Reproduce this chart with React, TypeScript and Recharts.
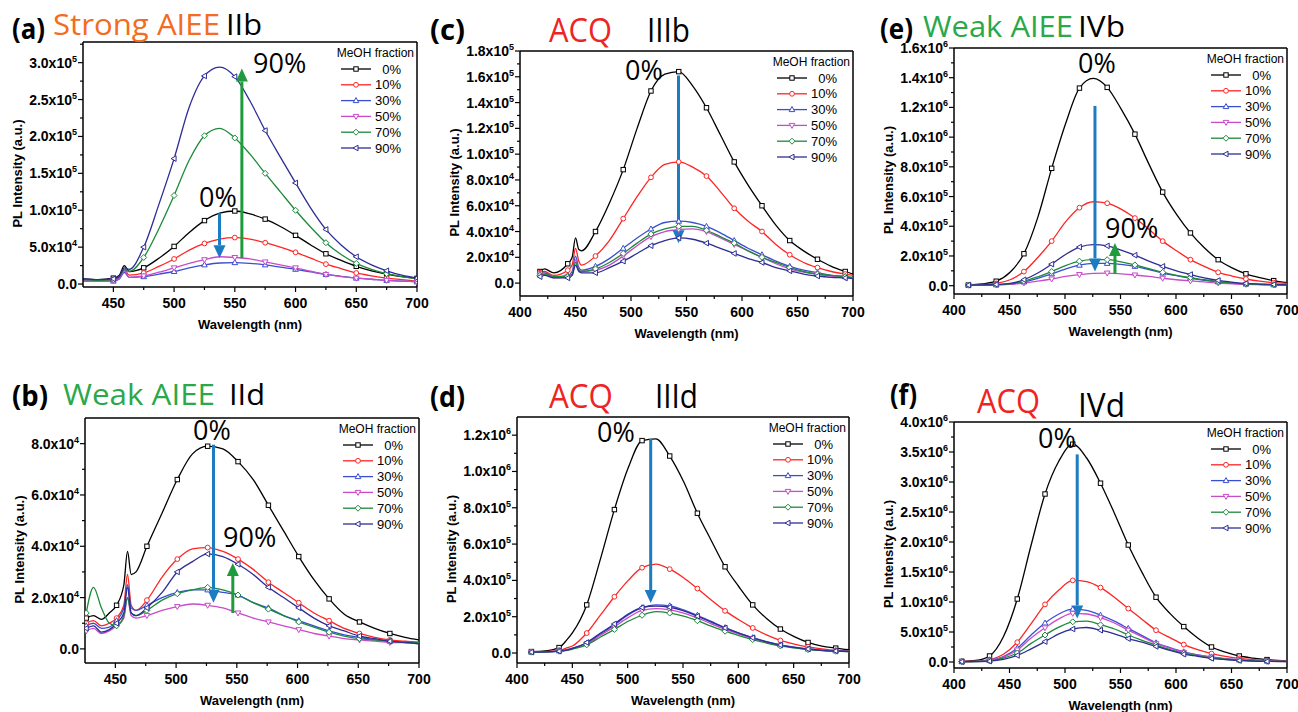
import React from "react";
import { LineChart, Line, XAxis, YAxis, ReferenceLine } from "recharts";

const FRACTIONS = ["0%", "10%", "30%", "50%", "70%", "90%"];
const LINE_COLORS = ["#000000", "#ff2424", "#3a4fd0", "#c94bc9", "#1c8a3a", "#2d2d95"];
const MARKERS = ["square", "circle", "up", "down", "diamond", "left"];
const BLUE = "#1b7cc2";
const GREEN = "#1f9a3c";
const AX_FONT = "Arial, 'Liberation Sans', sans-serif";
const TITLE_FONT = "'Open Sans', 'Noto Sans', sans-serif";

// intensities below are in 10^3 counts

// (a) Strong AIEE IIb
const wlA = [425, 437.5, 450, 455, 459, 463, 475, 487.5, 500, 512.5, 525, 537.5, 550, 562.5, 575, 587.5, 600, 612.5, 625, 637.5, 650, 662.5, 675, 687.5, 700];
const a00 = [7, 6, 8, 12, 25, 17, 22, 35, 51, 70, 86, 96, 99, 95, 88, 78, 66, 53, 41, 32, 24, 18, 13.5, 10, 7.7];
const a10 = [6, 5, 6, 9, 20, 12, 15, 24, 34, 46, 55, 61, 63, 61, 56, 50, 43, 35, 27, 21, 15, 11, 8, 6, 4];
const a30 = [4, 4, 4, 7, 16, 9, 10, 13.5, 17, 22, 26, 28.5, 29, 28, 26, 23, 20, 16.5, 13, 10.5, 8, 6.5, 5, 4, 3];
const a50 = [5, 4.5, 5, 8, 18, 9, 11, 16, 22, 28, 33, 37, 36, 34, 30, 26, 22, 17.5, 13, 10, 8, 6.5, 5, 4, 3];
const a70 = [6, 5, 6, 10, 20, 17, 36, 75, 120, 168, 201, 211, 198, 176, 150, 125, 100, 77, 56, 40, 28, 20, 14, 10, 7];
const a90 = [7, 6, 7, 11, 22, 20, 50, 108, 170, 240, 282, 294, 281, 248, 208, 172, 137, 103, 74, 53, 37, 26, 18, 12, 8];

// (b) Weak AIEE IId
const wlB = [426, 432, 438.5, 445, 451, 457, 460, 463, 467, 476, 488.5, 501, 513.5, 526, 538.5, 551, 563.5, 576, 588.5, 601, 613.5, 626, 638.5, 651, 663.5, 676, 688.5, 700];
const b00 = [12, 13, 11.5, 14, 17, 25, 38, 29, 30, 40, 53, 66, 76, 79, 78, 73, 66, 56, 46, 36, 27, 19.5, 13.5, 10.5, 8, 6, 4.5, 3.5];
const b10 = [10, 11, 9, 10, 12, 17, 29, 17, 15, 19, 28, 35, 39, 39.5, 38, 35, 31, 26, 22, 18, 14, 11, 8, 6, 4.5, 3.5, 3, 2.5];
const b30 = [9, 10, 8, 8.5, 11, 16, 25, 16, 15, 17, 20, 22, 23, 23, 22, 21, 18, 16, 13, 11, 9, 7, 5.5, 4.5, 3.5, 3, 2.5, 2.5];
const b50 = [7, 8, 6, 7, 9, 12, 20, 13, 12, 13, 15, 16.5, 17.5, 17, 16, 14, 12, 10.5, 9, 7.5, 6, 5, 4, 3.5, 3, 2.5, 2.5, 2];
const b70 = [14, 24, 16, 10, 9, 13, 20, 14, 13, 15, 19, 21.5, 23, 24, 23, 21, 18, 15.5, 13, 10.5, 8.5, 6.5, 5, 4, 3.5, 3, 2.5, 2.5];
const b90 = [8, 9, 6.5, 7.5, 10, 14, 24, 14, 13, 16, 22, 30, 34, 37, 36, 33, 29, 24, 20, 16, 12, 9, 7, 5, 4, 3, 2.5, 2];

// (c) ACQ IIIb
const wlC = [418, 422, 430.5, 443, 447, 450, 453, 455.5, 468, 480.5, 493, 505.5, 518, 530.5, 543, 555.5, 568, 580.5, 593, 605.5, 618, 630.5, 643, 655.5, 668, 680.5, 693, 700];
const c00 = [9, 11, 8, 15, 20, 35, 26, 25, 40, 62, 88, 120, 149, 162, 164, 153, 136, 115, 94, 76, 60, 45, 33, 25, 18.5, 13, 9, 7];
const c10 = [8, 9, 6, 10, 14, 27, 17, 14, 21, 33, 50, 67, 82, 92, 94, 90, 83, 71, 58, 48, 40, 30, 22, 16, 12, 9, 7, 6];
const c30 = [7, 8, 5, 6, 9, 21, 12, 10, 13, 19, 27, 35, 42, 47, 48, 47, 44, 39, 33, 27, 22, 17, 13, 10, 8, 6, 5, 4];
const c50 = [6, 7, 4, 5, 7, 18, 10, 9, 10, 14, 21, 29, 36, 40, 41.5, 42, 40, 35, 30, 25, 20, 15, 11, 8.5, 7, 5.5, 4.5, 4];
const c70 = [6, 7, 5, 5, 7, 16, 10, 9, 11, 16, 23, 31, 38, 42, 44, 44, 41, 36, 31, 25, 20, 16, 12, 9, 7, 6, 5, 4.5];
const c90 = [5, 6, 4, 4, 6, 14, 9, 8, 8, 12, 17, 23, 29, 33, 35, 34, 31, 27, 23, 19, 16, 12, 9.5, 7, 5.5, 4.5, 4, 3.5];

// (d) ACQ IIId
const wlD = [413, 425.5, 438, 445, 450.5, 463, 475.5, 488, 500.5, 513, 525.5, 538, 550.5, 563, 575.5, 588, 600.5, 613, 625.5, 638, 650.5, 663, 675.5, 688, 700];
const d00 = [8, 12, 30, 72, 115, 265, 520, 790, 1020, 1170, 1180, 1085, 945, 770, 620, 475, 365, 265, 190, 132, 90, 58, 38, 27, 18];
const d10 = [6, 8, 15, 28, 40, 110, 210, 310, 400, 470, 490, 462, 415, 355, 292, 232, 183, 138, 100, 69, 49, 34, 23, 15, 12];
const d30 = [5, 6, 12, 18, 28, 55, 105, 155, 210, 250, 265, 260, 238, 208, 174, 140, 110, 85, 63, 45, 32, 22, 16, 12, 9];
const d50 = [5, 6, 11, 16, 25, 50, 98, 145, 195, 235, 245, 238, 220, 193, 161, 131, 104, 80, 59, 42, 30, 21, 15, 11, 8];
const d70 = [5, 6, 10, 15, 22, 45, 88, 130, 175, 208, 228, 220, 203, 178, 148, 120, 96, 74, 55, 39, 28, 19, 13, 10, 7];
const d90 = [5, 6, 10, 16, 25, 58, 110, 160, 215, 250, 258, 252, 232, 203, 170, 138, 109, 84, 62, 44, 31, 22, 15, 11, 9];

// (e) Weak AIEE IVb
const wlE = [413, 425.5, 438, 450.5, 463, 475.5, 488, 500.5, 513, 525.5, 538, 550.5, 563, 575.5, 588, 600.5, 613, 625.5, 638, 650.5, 663, 675.5, 688, 700];
const e00 = [5, 12, 30, 90, 215, 460, 790, 1090, 1330, 1395, 1335, 1190, 1020, 820, 630, 480, 355, 255, 175, 120, 80, 55, 34, 20];
const e10 = [5, 8, 15, 40, 95, 190, 300, 430, 525, 565, 555, 515, 455, 380, 300, 235, 175, 130, 90, 65, 45, 30, 20, 15];
const e30 = [4, 5, 6, 10, 25, 50, 80, 112, 138, 150, 150, 143, 130, 108, 85, 67, 50, 36, 25, 17, 11, 8, 6, 4];
const e50 = [3, 4, 5, 9, 18, 30, 45, 62, 75, 83, 85, 80, 72, 62, 50, 40, 32, 25, 18, 13, 9, 7, 5, 4];
const e70 = [4, 5, 7, 12, 30, 60, 95, 135, 165, 175, 175, 160, 140, 115, 90, 70, 55, 40, 28, 19, 12, 9, 6, 5];
const e90 = [4, 5, 8, 15, 40, 85, 145, 210, 260, 277, 268, 240, 205, 165, 130, 100, 75, 52, 35, 24, 15, 11, 8, 6];

// (f) ACQ IVd
const wlF = [407, 419.5, 432, 444.5, 457, 469.5, 482, 494.5, 507, 519.5, 532, 544.5, 557, 569.5, 582, 594.5, 607, 619.5, 632, 644.5, 657, 669.5, 682, 700];
const f00 = [10, 25, 100, 420, 1050, 1950, 2800, 3350, 3630, 3400, 2980, 2480, 1950, 1490, 1080, 810, 590, 400, 250, 165, 100, 65, 40, 20];
const f10 = [8, 12, 40, 130, 330, 640, 960, 1200, 1360, 1340, 1240, 1080, 890, 710, 530, 405, 290, 205, 140, 95, 60, 40, 25, 15];
const f30 = [6, 10, 25, 90, 230, 450, 650, 800, 880, 860, 780, 680, 560, 440, 320, 240, 170, 120, 85, 55, 35, 22, 15, 10];
const f50 = [6, 9, 22, 80, 200, 400, 570, 720, 810, 800, 740, 650, 530, 420, 310, 230, 160, 115, 80, 52, 33, 21, 14, 9];
const f70 = [5, 8, 18, 65, 150, 310, 450, 580, 670, 680, 620, 550, 450, 360, 280, 205, 145, 105, 70, 46, 30, 18, 12, 8];
const f90 = [5, 7, 15, 45, 110, 220, 340, 470, 550, 575, 530, 470, 390, 330, 260, 195, 130, 95, 60, 40, 25, 15, 10, 7];

// axis ticks
const xMajorShort = [450, 500, 550, 600, 650, 700];
const xMinorShort = [475, 525, 575, 625, 675];
const xMajorLong = [400, 450, 500, 550, 600, 650, 700];
const xMinorLong = [425, 475, 525, 575, 625, 675];
const yMajorA = [0, 5e4, 1e5, 1.5e5, 2e5, 2.5e5, 3e5];
const yMinorA = [2.5e4, 7.5e4, 1.25e5, 1.75e5, 2.25e5, 2.75e5, 3.25e5];
const yMajorB = [0, 2e4, 4e4, 6e4, 8e4];
const yMinorB = [1e4, 3e4, 5e4, 7e4];
const yMajorC = [0, 2e4, 4e4, 6e4, 8e4, 1e5, 1.2e5, 1.4e5, 1.6e5, 1.8e5];
const yMinorC = [1e4, 3e4, 5e4, 7e4, 9e4, 1.1e5, 1.3e5, 1.5e5, 1.7e5];
const yMajorD = [0, 2e5, 4e5, 6e5, 8e5, 1e6, 1.2e6];
const yMinorD = [1e5, 3e5, 5e5, 7e5, 9e5, 1.1e6];
const yMajorE = [0, 2e5, 4e5, 6e5, 8e5, 1e6, 1.2e6, 1.4e6, 1.6e6];
const yMinorE = [1e5, 3e5, 5e5, 7e5, 9e5, 1.1e6, 1.3e6, 1.5e6];
const yMajorF = [0, 5e5, 1e6, 1.5e6, 2e6, 2.5e6, 3e6, 3.5e6, 4e6];
const yMinorF = [2.5e5, 7.5e5, 1.25e6, 1.75e6, 2.25e6, 2.75e6, 3.25e6, 3.75e6];

type Txt = { text: string; x: number; y: number; color?: string; size?: number; bold?: boolean; w?: number };
type Arrow = { x: number; from: number; to: number; color: string };
type PanelCfg = {
  id: string;
  frame: [number, number, number, number];
  wl: number[];
  series: number[][];
  markStart: number;
  xDomain: [number, number];
  xMajor: number[];
  xMinor: number[];
  yDomain: [number, number];
  yMajor: number[];
  yMinor: number[];
  arrows: Arrow[];
  heading: Txt[];
  notes: Txt[];
};

const ORANGE = "#f36c21";
const TGREEN = "#2aa84a";
const TRED = "#ee2424";

const PANELS: PanelCfg[] = [
  {
    id: "a", frame: [83, 42, 417, 287], wl: wlA, series: [a00, a10, a30, a50, a70, a90], markStart: 450,
    xDomain: [425, 700], xMajor: xMajorShort, xMinor: xMinorShort,
    yDomain: [-4000, 3.28e5], yMajor: yMajorA, yMinor: yMinorA,
    arrows: [{ x: 537.4, from: 96e3, to: 35e3, color: BLUE }, { x: 555.8, from: 35e3, to: 292e3, color: GREEN }],
    heading: [
      { text: "(a)", x: 12, y: 39, bold: true, size: 28, w: 33 },
      { text: "Strong AIEE", x: 53, y: 35, color: ORANGE, size: 29, w: 167 },
      { text: "IIb", x: 226, y: 35, size: 29, w: 36 },
    ],
    notes: [{ text: "0%", x: 199, y: 207 }, { text: "90%", x: 253, y: 73 }],
  },
  {
    id: "c", frame: [520, 51, 853, 296], wl: wlC, series: [c00, c10, c30, c50, c70, c90], markStart: 418,
    xDomain: [400, 700], xMajor: xMajorLong, xMinor: xMinorLong,
    yDomain: [-1e4, 1.8e5], yMajor: yMajorC, yMinor: yMinorC,
    arrows: [{ x: 542.8, from: 161e3, to: 31e3, color: BLUE }],
    heading: [
      { text: "(c)", x: 430, y: 40, bold: true, size: 28, w: 35 },
      { text: "ACQ", x: 549, y: 42, color: TRED, size: 32, w: 63 },
      { text: "IIIb", x: 647, y: 42, size: 32, w: 43 },
    ],
    notes: [{ text: "0%", x: 625, y: 80 }],
  },
  {
    id: "e", frame: [954, 48, 1287, 294], wl: wlE, series: [e00, e10, e30, e50, e70, e90], markStart: 413,
    xDomain: [400, 700], xMajor: xMajorLong, xMinor: xMinorLong,
    yDomain: [-5.6e4, 1.6e6], yMajor: yMajorE, yMinor: yMinorE,
    arrows: [{ x: 527, from: 1.21e6, to: 96e3, color: BLUE }, { x: 545, from: 81e3, to: 288e3, color: GREEN }],
    heading: [
      { text: "(e)", x: 880, y: 39, bold: true, size: 28, w: 33 },
      { text: "Weak AIEE", x: 923, y: 37, color: TGREEN, size: 30, w: 150 },
      { text: "IVb", x: 1078, y: 37, size: 30, w: 47 },
    ],
    notes: [{ text: "0%", x: 1078, y: 73 }, { text: "90%", x: 1105, y: 238 }],
  },
  {
    id: "b", frame: [85, 418, 419, 663], wl: wlB, series: [b00, b10, b30, b50, b70, b90], markStart: 426,
    xDomain: [425, 700], xMajor: xMajorShort, xMinor: xMinorShort,
    yDomain: [-5500, 9e4], yMajor: yMajorB, yMinor: yMinorB,
    arrows: [{ x: 530.8, from: 79.6e3, to: 18e3, color: BLUE }, { x: 546.7, from: 14e3, to: 33.5e3, color: GREEN }],
    heading: [
      { text: "(b)", x: 12, y: 406, bold: true, size: 28, w: 36 },
      { text: "Weak AIEE", x: 63, y: 405, color: TGREEN, size: 30, w: 152 },
      { text: "IId", x: 229, y: 405, size: 30, w: 36 },
    ],
    notes: [{ text: "0%", x: 193, y: 440 }, { text: "90%", x: 223, y: 547 }],
  },
  {
    id: "d", frame: [517, 417, 849, 663], wl: wlD, series: [d00, d10, d30, d50, d70, d90], markStart: 413,
    xDomain: [400, 700], xMajor: xMajorLong, xMinor: xMinorLong,
    yDomain: [-5.5e4, 1.3e6], yMajor: yMajorD, yMinor: yMinorD,
    arrows: [{ x: 520.8, from: 1.18e6, to: 275e3, color: BLUE }],
    heading: [
      { text: "(d)", x: 430, y: 407, bold: true, size: 28, w: 35 },
      { text: "ACQ", x: 549, y: 408, color: TRED, size: 32, w: 64 },
      { text: "IIId", x: 655, y: 408, size: 32, w: 43 },
    ],
    notes: [{ text: "0%", x: 597, y: 442 }],
  },
  {
    id: "f", frame: [954, 422, 1287, 668], wl: wlF, series: [f00, f10, f30, f50, f70, f90], markStart: 407,
    xDomain: [400, 700], xMajor: xMajorLong, xMinor: xMinorLong,
    yDomain: [-1e5, 4e6], yMajor: yMajorF, yMinor: yMinorF,
    arrows: [{ x: 511, from: 3.46e6, to: 725e3, color: BLUE }],
    heading: [
      { text: "(f)", x: 890, y: 405, bold: true, size: 28, w: 27 },
      { text: "ACQ", x: 977, y: 413, color: TRED, size: 32, w: 63 },
      { text: "IVd", x: 1078, y: 417, size: 32, w: 47 },
    ],
    notes: [{ text: "0%", x: 1038, y: 448 }],
  },
];

function sciLabel(v: number) {
  if (v === 0) return { m: "0.0", e: "" };
  const e = Math.floor(Math.log10(v) + 1e-9);
  return { m: (v / Math.pow(10, e)).toFixed(1) + "x10", e: String(e) };
}

function Marker({ cx, cy, kind, color }: { cx: number; cy: number; kind: string; color: string }) {
  const common = { fill: "#fff", stroke: color, strokeWidth: 1 };
  switch (kind) {
    case "square":
      return <rect x={cx - 2.2} y={cy - 2.2} width={4.4} height={4.4} {...common} />;
    case "circle":
      return <circle cx={cx} cy={cy} r={2.4} {...common} />;
    case "up":
      return <polygon points={`${cx},${cy - 3} ${cx + 2.8},${cy + 2} ${cx - 2.8},${cy + 2}`} {...common} />;
    case "down":
      return <polygon points={`${cx},${cy + 3} ${cx + 2.8},${cy - 2} ${cx - 2.8},${cy - 2}`} {...common} />;
    case "diamond":
      return <polygon points={`${cx},${cy - 3} ${cx + 3},${cy} ${cx},${cy + 3} ${cx - 3},${cy}`} {...common} />;
    default:
      return <polygon points={`${cx - 3},${cy} ${cx + 2},${cy - 2.8} ${cx + 2},${cy + 2.8}`} {...common} />;
  }
}

const makeDot = (start: number, kind: string, color: string) => (p: any) => {
  const wl = p.payload?.wl;
  const on = typeof wl === "number" && wl >= start && Math.abs((wl - start) % 25) < 1e-6;
  if (!on || p.cx == null || p.cy == null) return <g key={`d${p.index}`} />;
  return (
    <g key={`d${p.index}`}>
      <Marker cx={p.cx} cy={p.cy} kind={kind} color={color} />
    </g>
  );
};

const arrowShape = (color: string) => (p: any) => {
  const { x1, y1, x2, y2 } = p;
  const dir = y2 > y1 ? 1 : -1;
  const head = 13;
  const half = 6;
  return (
    <g>
      <line x1={x1} y1={y1} x2={x2} y2={y2 - dir * head} stroke={color} strokeWidth={3} />
      <polygon points={`${x2},${y2} ${x2 - half},${y2 - dir * head} ${x2 + half},${y2 - dir * head}`} fill={color} />
    </g>
  );
};

function XTick({ x, y, payload, majors }: any) {
  const major = majors.includes(payload.value);
  const top = y - 8;
  return (
    <g>
      <line x1={x} x2={x} y1={top} y2={top + (major ? 5 : 3)} stroke="#000" strokeWidth={1.2} />
      {major && (
        <text x={x} y={top + 21} textAnchor="middle" fontSize={14} fontWeight="bold" fontFamily={AX_FONT} fill="#000">
          {payload.value}
        </text>
      )}
    </g>
  );
}

function YTick({ x, y, payload, majors }: any) {
  const major = majors.includes(payload.value);
  const right = x + 8;
  const lab = sciLabel(payload.value);
  return (
    <g>
      <line x1={right - (major ? 5 : 3)} x2={right} y1={y} y2={y} stroke="#000" strokeWidth={1.2} />
      {major && (
        <text x={right - 6} y={y + 5} textAnchor="end" fontSize={14} fontWeight="bold" fontFamily={AX_FONT} fill="#000">
          <tspan>{lab.m}</tspan>
          {lab.e && (
            <tspan dy={-6} fontSize={9}>
              {lab.e}
            </tspan>
          )}
        </text>
      )}
    </g>
  );
}

function Panel({ cfg }: { cfg: PanelCfg }) {
  const [l, t, r, b] = cfg.frame;
  const w = r - l + 100;
  const h = b - t + 60;
  const rows = cfg.wl.map((wl, i) => {
    const row: Record<string, number> = { wl };
    cfg.series.forEach((s, k) => {
      row["s" + k] = s[i] * 1000;
    });
    return row;
  });
  return (
    <div style={{ position: "absolute", left: l - 80, top: t - 10, width: w, height: h }}>
      <LineChart width={w} height={h} data={rows} margin={{ top: 10, right: 20, bottom: 0, left: 0 }}>
        <XAxis
          dataKey="wl"
          type="number"
          domain={cfg.xDomain}
          allowDataOverflow
          ticks={[...cfg.xMajor, ...cfg.xMinor].sort((p, q) => p - q)}
          interval={0}
          height={50}
          tickSize={5}
          tickMargin={3}
          tickLine={false}
          axisLine={{ stroke: "#000", strokeWidth: 1.5 }}
          tick={(p: any) => <XTick {...p} majors={cfg.xMajor} />}
        />
        <YAxis
          type="number"
          domain={cfg.yDomain}
          allowDataOverflow
          ticks={[...cfg.yMajor, ...cfg.yMinor].sort((p, q) => p - q)}
          interval={0}
          width={80}
          tickSize={5}
          tickMargin={3}
          tickLine={false}
          axisLine={{ stroke: "#000", strokeWidth: 1.5 }}
          tick={(p: any) => <YTick {...p} majors={cfg.yMajor} />}
        />
        <ReferenceLine x={cfg.xDomain[1]} stroke="#000" strokeWidth={1.5} ifOverflow="visible" />
        <ReferenceLine y={cfg.yDomain[1]} stroke="#000" strokeWidth={1.5} ifOverflow="visible" />
        {cfg.series.map((_, k) => (
          <Line
            key={k}
            type="monotone"
            dataKey={"s" + k}
            stroke={LINE_COLORS[k]}
            strokeWidth={1.3}
            dot={makeDot(cfg.markStart, MARKERS[k], LINE_COLORS[k])}
            activeDot={false}
            isAnimationActive={false}
          />
        ))}
        {cfg.arrows.map((a, i) => (
          <ReferenceLine
            key={"arr" + i}
            segment={[{ x: a.x, y: a.from }, { x: a.x, y: a.to }]}
            stroke={a.color}
            ifOverflow="visible"
            shape={arrowShape(a.color)}
          />
        ))}
      </LineChart>
    </div>
  );
}

function Overlay() {
  return (
    <svg width={1298} height={712} style={{ position: "absolute", left: 0, top: 0, pointerEvents: "none" }}>
      {PANELS.map((p) => {
        const [l, t, r, b] = p.frame;
        return (
          <g key={p.id}>
            {p.heading.map((h, i) => (
              <text
                key={"h" + i}
                x={h.x}
                y={h.y}
                fontSize={h.size}
                fontWeight={h.bold ? "bold" : "normal"}
                fill={h.color ?? "#000"}
                fontFamily={TITLE_FONT}
                textLength={h.w}
                lengthAdjust="spacingAndGlyphs"
              >
                {h.text}
              </text>
            ))}
            {p.notes.map((n, i) => (
              <text key={"n" + i} x={n.x} y={n.y} fontSize={27} fill="#000" fontFamily={TITLE_FONT}>
                {n.text}
              </text>
            ))}
            <text x={(l + r) / 2} y={b + 42} textAnchor="middle" fontSize={13} fontWeight="bold" fontFamily={AX_FONT}>
              Wavelength (nm)
            </text>
            <text
              transform={`translate(${l - 61},${(t + b) / 2 + 9}) rotate(-90)`}
              textAnchor="middle"
              fontSize={13}
              fontWeight="bold"
              fontFamily={AX_FONT}
            >
              PL Intensity (a.u.)
            </text>
            <text x={r - 3} y={t + 15} textAnchor="end" fontSize={12} fontFamily={AX_FONT}>
              MeOH fraction
            </text>
            {FRACTIONS.map((f, k) => {
              const y = t + 27 + k * 15.8;
              return (
                <g key={f}>
                  <line x1={r - 76} x2={r - 46} y1={y} y2={y} stroke={LINE_COLORS[k]} strokeWidth={1.3} />
                  <Marker cx={r - 61} cy={y} kind={MARKERS[k]} color={LINE_COLORS[k]} />
                  <text x={r - 16} y={y + 4.5} textAnchor="end" fontSize={13} fontFamily={AX_FONT}>
                    {f}
                  </text>
                </g>
              );
            })}
          </g>
        );
      })}
    </svg>
  );
}

export default function App() {
  return (
    <div
      style={{
        position: "absolute",
        left: 0,
        top: 0,
        width: 1298,
        height: 712,
        background: "#fff",
        overflow: "hidden",
      }}
    >
      {PANELS.map((p) => (
        <Panel key={p.id} cfg={p} />
      ))}
      <Overlay />
    </div>
  );
}
